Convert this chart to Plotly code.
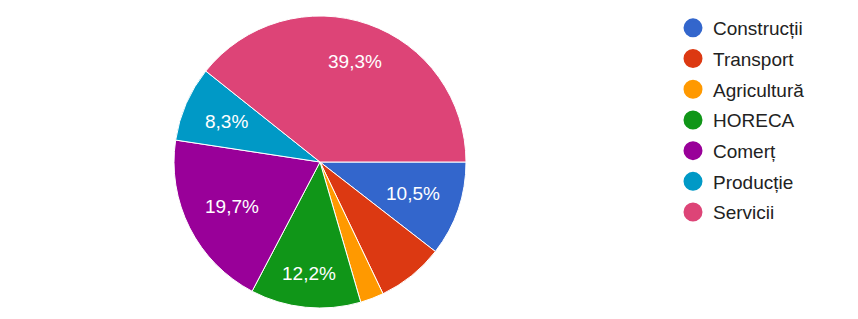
import math
import plotly.graph_objects as go

categories = ["Construcții", "Transport", "Agricultură", "HORECA", "Comerț", "Producție", "Servicii"]
values = [10.5, 7.4, 2.6, 12.2, 19.7, 8.3, 39.3]
colors = ["#3366cc", "#dc3912", "#ff9900", "#109618", "#990099", "#0099c6", "#dd4477"]
show_label = [True, False, False, True, True, True, True]

W, H = 858, 319
cx, cy, R = 320, 162, 146
LABEL_SIZE = 19

fig = go.Figure()
fig.add_trace(go.Pie(
    labels=categories,
    values=values,
    sort=False,
    direction="clockwise",
    rotation=90,
    marker=dict(colors=colors, line=dict(color="white", width=1)),
    textinfo="none",
    hoverinfo="label+percent",
    showlegend=False,
    domain=dict(x=[(cx - R) / W, (cx + R) / W],
                y=[(H - (cy + R)) / H, (H - (cy - R)) / H]),
))

# slice labels, placed from the values (Google-style: box corner on a fixed circle)
total = sum(values)
cum = 0.0
annotations = []
D = 0.863 * R
for v, s in zip(values, show_label):
    mid = (cum + v / 2) / total * 2 * math.pi  # clockwise from 3 o'clock
    cum += v
    if not s:
        continue
    pct = v / total * 100
    txt = f"{pct:.1f}".replace(".", ",") + "%"
    ndig = sum(ch.isdigit() for ch in txt)
    a = (8.9 * ndig + 26.5) / 2
    b = 9.0
    c, sn = abs(math.cos(mid)), abs(math.sin(mid))
    k = a * c + b * sn
    r = -k + math.sqrt(k * k - (a * a + b * b - D * D))
    px = cx + r * math.cos(mid)
    py = cy + r * math.sin(mid)
    annotations.append(dict(
        x=px / W, y=1 - py / H, xref="paper", yref="paper",
        text=txt, showarrow=False, xanchor="center", yanchor="middle",
        font=dict(color="white", size=LABEL_SIZE, family="Arial"),
    ))

for i, (c, col) in enumerate(zip(categories, colors)):
    fig.add_trace(go.Scatter(
        x=[None], y=[None], mode="markers", name=c,
        legendgroup=f"g{i}",
        marker=dict(symbol="circle", size=16, color=col,
                    line=dict(color=col, width=3)),
        showlegend=True,
    ))

fig.update_layout(
    width=W, height=H,
    margin=dict(l=0, r=0, t=0, b=0, autoexpand=False),
    paper_bgcolor="white",
    plot_bgcolor="white",
    xaxis=dict(visible=False, domain=[0.95, 1]),
    yaxis=dict(visible=False),
    font=dict(family="Arial", color="#222222"),
    annotations=annotations,
    legend=dict(
        x=673 / W, xanchor="left",
        y=1 - 9 / H, yanchor="top",
        font=dict(size=19, family="Arial", color="#222222"),
        tracegroupgap=3,
        itemwidth=30,
        maxheight=300,
        bgcolor="rgba(0,0,0,0)",
    ),
)

fig.write_html("out.html")
